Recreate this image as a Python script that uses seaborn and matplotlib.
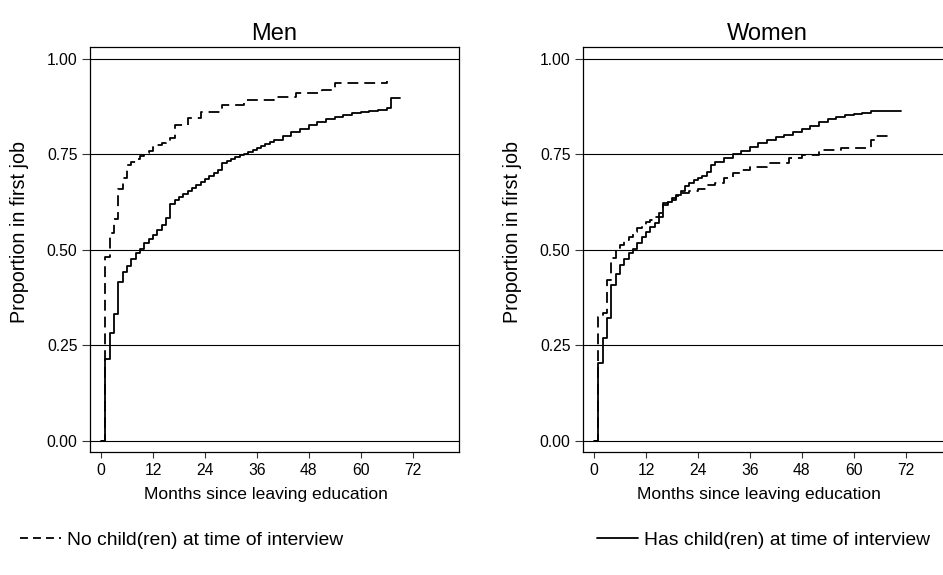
import numpy as np
import pandas as pd
import matplotlib
matplotlib.use("Agg")
import matplotlib.pyplot as plt
from matplotlib.lines import Line2D
import seaborn as sns

# ------------------------------------------------------------------------
# data (step points: month, proportion)
# ------------------------------------------------------------------------
GROUPS = ["No child(ren) at time of interview", "Has child(ren) at time of interview"]
PANELS = ["Men", "Women"]

MEN_NOKID_M = [0, 1, 2, 3, 4, 5, 6, 7, 8, 9, 10, 11, 12, 13, 14, 15, 16, 17, 20, 23,
               28, 33, 40, 45, 51, 54, 66]
MEN_NOKID_P = [0.0, 0.482, 0.545, 0.580, 0.659, 0.688, 0.723, 0.731, 0.737, 0.746, 0.753,
               0.760, 0.770, 0.775, 0.780, 0.785, 0.792, 0.827, 0.845, 0.862,
               0.880, 0.893, 0.901, 0.910, 0.919, 0.938, 0.941]

MEN_KID_M = [0, 1, 2, 3, 4, 5, 6, 7, 8, 9, 10, 11, 12, 13, 14, 15, 16, 17, 18, 19, 20,
             21, 22, 23, 24, 25, 26, 27, 28, 29, 30, 31, 32, 33, 34, 35, 36, 37, 38, 39,
             40, 42, 44, 46, 48, 50, 52, 54, 56, 58, 60, 62, 64, 66, 67, 69]
MEN_KID_P = [0.0, 0.214, 0.282, 0.332, 0.415, 0.442, 0.459, 0.476, 0.491, 0.503, 0.517,
             0.529, 0.538, 0.552, 0.564, 0.583, 0.621, 0.630, 0.638, 0.646, 0.655,
             0.663, 0.671, 0.678, 0.686, 0.694, 0.702, 0.710, 0.727, 0.733, 0.738,
             0.743, 0.748, 0.752, 0.757, 0.762, 0.767, 0.772, 0.777, 0.782,
             0.787, 0.797, 0.808, 0.817, 0.826, 0.834, 0.842, 0.849, 0.854, 0.858,
             0.861, 0.864, 0.867, 0.872, 0.897, 0.897]

WOMEN_NOKID_M = [0, 1, 2, 3, 4, 5, 6, 7, 8, 9, 10, 11, 12, 13, 14, 15, 16, 17, 18, 19,
                 20, 22, 24, 26, 28, 30, 32, 34, 36, 40, 45, 48, 52, 57, 63, 64, 65, 69]
WOMEN_NOKID_P = [0.0, 0.325, 0.334, 0.421, 0.478, 0.504, 0.513, 0.526, 0.535, 0.548,
                 0.557, 0.563, 0.574, 0.578, 0.587, 0.596, 0.622, 0.626, 0.631, 0.640,
                 0.648, 0.653, 0.659, 0.670, 0.676, 0.688, 0.701, 0.709, 0.718, 0.727,
                 0.740, 0.749, 0.762, 0.766, 0.768, 0.788, 0.798, 0.798]

WOMEN_KID_M = [0, 1, 2, 3, 4, 5, 6, 7, 8, 9, 10, 11, 12, 13, 14, 15, 16, 17, 18, 19,
               20, 21, 22, 23, 24, 25, 26, 27, 28, 30, 32, 34, 36, 38, 40, 42, 44, 46,
               48, 50, 52, 54, 56, 58, 60, 62, 64, 71]
WOMEN_KID_P = [0.0, 0.205, 0.269, 0.323, 0.407, 0.437, 0.461, 0.476, 0.493, 0.503,
               0.517, 0.533, 0.546, 0.559, 0.571, 0.587, 0.618, 0.626, 0.635, 0.644,
               0.653, 0.666, 0.675, 0.683, 0.688, 0.694, 0.705, 0.723, 0.731, 0.740,
               0.750, 0.760, 0.770, 0.779, 0.788, 0.795, 0.802, 0.809,
               0.816, 0.824, 0.836, 0.842, 0.847, 0.852, 0.855, 0.858, 0.864, 0.864]

X_TICKS = [0, 12, 24, 36, 48, 60, 72]
Y_TICKS = [0.00, 0.25, 0.50, 0.75, 1.00]
X_LABEL = "Months since leaving education"
Y_LABEL = "Proportion in first job"

# ------------------------------------------------------------------------
# tidy table
# ------------------------------------------------------------------------
parts = []
for panel, grp, m, p in [
    ("Men", GROUPS[0], MEN_NOKID_M, MEN_NOKID_P),
    ("Men", GROUPS[1], MEN_KID_M, MEN_KID_P),
    ("Women", GROUPS[0], WOMEN_NOKID_M, WOMEN_NOKID_P),
    ("Women", GROUPS[1], WOMEN_KID_M, WOMEN_KID_P),
]:
    parts.append(pd.DataFrame({"panel": panel, "group": grp, "months": m, "prop": p}))
df = pd.concat(parts, ignore_index=True)

# ------------------------------------------------------------------------
# style
# ------------------------------------------------------------------------
sns.set_style("ticks")
plt.rcParams["font.family"] = ["Liberation Sans", "DejaVu Sans"]
plt.rcParams.update({"text.color": "black", "axes.labelcolor": "black"})

LW = 1.3
DASH = (6.0, 3.3)

fig = plt.figure(figsize=(9.43, 5.75), dpi=100, facecolor="white")
W, H = 943, 575
axes = [
    fig.add_axes([90 / W, 123 / H, 369 / W, 405 / H]),
    fig.add_axes([583 / W, 123 / H, 369 / W, 405 / H]),
]

for ax, panel in zip(axes, PANELS):
    sub = df[df["panel"] == panel]
    for y in Y_TICKS:
        ax.axhline(y, color="black", lw=0.8, zorder=1)
    sns.lineplot(
        data=sub, x="months", y="prop",
        style="group", style_order=GROUPS,
        dashes={GROUPS[0]: DASH, GROUPS[1]: ""},
        color="black", lw=LW, drawstyle="steps-post",
        estimator=None, legend=False, ax=ax, zorder=3,
    )
    ax.set_xlim(-2.54, 82.7)
    ax.set_ylim(-0.0288, 1.031)
    ax.set_xticks(X_TICKS)
    ax.set_yticks(Y_TICKS)
    ax.set_yticklabels([f"{v:.2f}" for v in Y_TICKS])
    ax.tick_params(axis="x", length=4, width=0.8, color="#333333", pad=4,
                   labelsize=11.3, labelcolor="black")
    ax.tick_params(axis="y", length=6, width=0.8, color="#333333", pad=3,
                   labelsize=11.3, labelcolor="black")
    for s in ax.spines.values():
        s.set_visible(True)
        s.set_linewidth(0.9)
        s.set_color("black")
    ax.set_title(panel, fontsize=17, pad=5, color="black")
    ax.set_xlabel(X_LABEL, fontsize=12.6)
    ax.set_ylabel(Y_LABEL, fontsize=14.2)
    ax.xaxis.set_label_coords(0.478, -0.086)
    ax.yaxis.set_label_coords(-0.165, 0.542)

handles = [
    Line2D([], [], color="black", lw=LW, dashes=(4.4, 2.8)),
    Line2D([], [], color="black", lw=LW),
]
fig.legend(handles, GROUPS, ncol=2, loc="center", bbox_to_anchor=(475 / W, 35 / H),
           frameon=False, fontsize=13.9, handlelength=2.1, handletextpad=0.3,
           columnspacing=13.2, labelcolor="black")

fig.savefig("out.png", dpi=100, facecolor="white")
